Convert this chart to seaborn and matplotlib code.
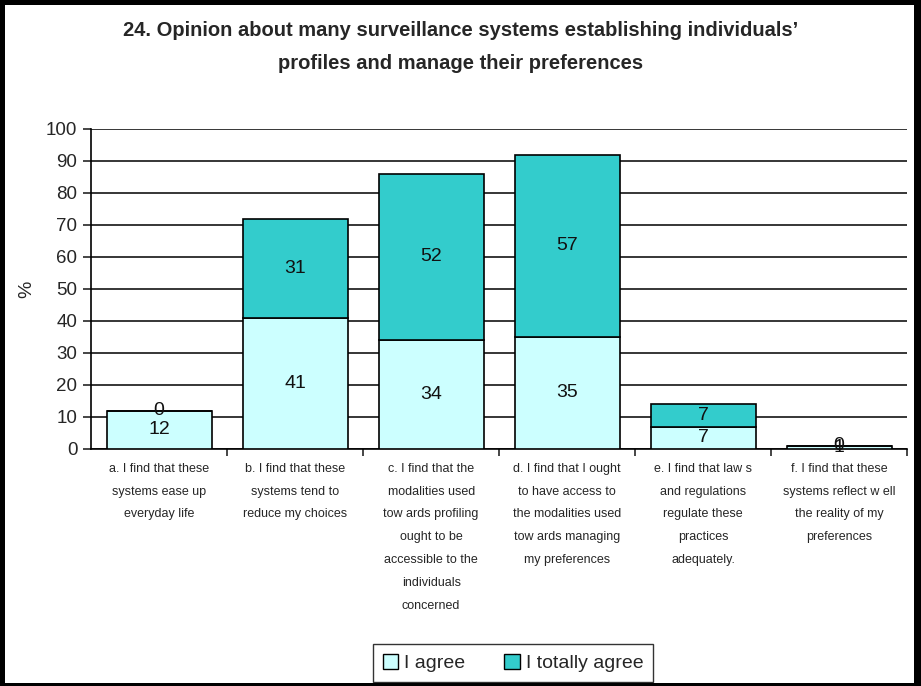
import matplotlib
matplotlib.use("Agg")
import matplotlib.pyplot as plt
import seaborn as sns
import pandas as pd
import numpy as np
from matplotlib.patches import Rectangle

categories = [
    "a. I find that these\nsystems ease up\neveryday life",
    "b. I find that these\nsystems tend to\nreduce my choices",
    "c. I find that the\nmodalities used\ntow ards profiling\nought to be\naccessible to the\nindividuals\nconcerned",
    "d. I find that I ought\nto have access to\nthe modalities used\ntow ards managing\nmy preferences",
    "e. I find that law s\nand regulations\nregulate these\npractices\nadequately.",
    "f. I find that these\nsystems reflect w ell\nthe reality of my\npreferences",
]
agree = [12, 41, 34, 35, 7, 1]
totally_agree = [0, 31, 52, 57, 7, 0]
series_names = ["I agree", "I totally agree"]
colors = ["#CCFFFF", "#33CCCC"]

df = pd.DataFrame({"cat": categories, "agree": agree, "total": totally_agree})

sns.set_style("white")
plt.rcParams["font.family"] = ["Liberation Sans", "DejaVu Sans"]

W, H = 921, 686
fig = plt.figure(figsize=(W / 100, H / 100), dpi=100)
ax = fig.add_axes([0.099, 0.3455, 0.886, 0.4665])

sns.barplot(data=df, x="cat", y="agree", color=colors[0], saturation=1,
            edgecolor="black", linewidth=1.2, width=0.77, ax=ax,
            label=series_names[0], zorder=3)
sns.barplot(data=df, x="cat", y="total", bottom=df["agree"], color=colors[1],
            saturation=1, edgecolor="black", linewidth=1.2, width=0.77, ax=ax,
            label=series_names[1], zorder=3)

for cont, vals in zip(ax.containers, [agree, totally_agree]):
    ax.bar_label(cont, labels=[str(v) for v in vals], label_type="center",
                 fontsize=14, color="#111111")

ax.set_ylim(0, 100)
ax.set_xlim(-0.5, 5.5)
ax.set_yticks(np.arange(0, 101, 10))
ax.tick_params(axis="y", labelsize=13.5, length=6, width=1.2, direction="out",
               left=True, pad=4)
ax.yaxis.grid(True, color="black", linewidth=1.1, zorder=0)
ax.set_axisbelow(True)

ax.set_xticks(range(len(categories)))
ax.set_xticklabels(categories, fontsize=9, linespacing=2.2, va="top")
ax.tick_params(axis="x", length=0, pad=10)
ax.set_xticks(np.arange(0.5, 5.6, 1), minor=True)
ax.tick_params(axis="x", which="minor", length=5, width=1.2, direction="out",
               bottom=True)

for s in ["top", "right"]:
    ax.spines[s].set_visible(False)
for s in ["left", "bottom"]:
    ax.spines[s].set_color("black")
    ax.spines[s].set_linewidth(1.2)

ax.set_xlabel("")
ax.set_ylabel("%", fontsize=14, labelpad=8)

fig.text(0.5, 0.955, "24. Opinion about many surveillance systems establishing individuals\u2019",
         ha="center", va="center", fontsize=14.5, fontweight="bold")
fig.text(0.5, 0.908, "profiles and manage their preferences",
         ha="center", va="center", fontsize=14.5, fontweight="bold")

ax.legend(loc="center", bbox_to_anchor=(513 / W, 23 / H), bbox_transform=fig.transFigure,
          ncol=2, frameon=True, fancybox=False, edgecolor="black", fontsize=14,
          handlelength=0.8, handleheight=0.8, handletextpad=0.3,
          columnspacing=2.0, borderpad=0.5)
leg = ax.get_legend()
leg.get_frame().set_linewidth(1.0)
for h in leg.legend_handles:
    h.set_edgecolor("black")
    h.set_linewidth(1.0)

# outer black frame (left, top, right, bottom thickness in px)
for x0, y0, w, h in [(0, 0, 5, H), (0, H - 5, W, 5), (W - 7, 0, 7, H), (0, 0, W, 3)]:
    fig.patches.append(Rectangle((x0 / W, y0 / H), w / W, h / H,
                                 transform=fig.transFigure, facecolor="black",
                                 edgecolor="none", zorder=10))

fig.savefig("out.png", dpi=100)
